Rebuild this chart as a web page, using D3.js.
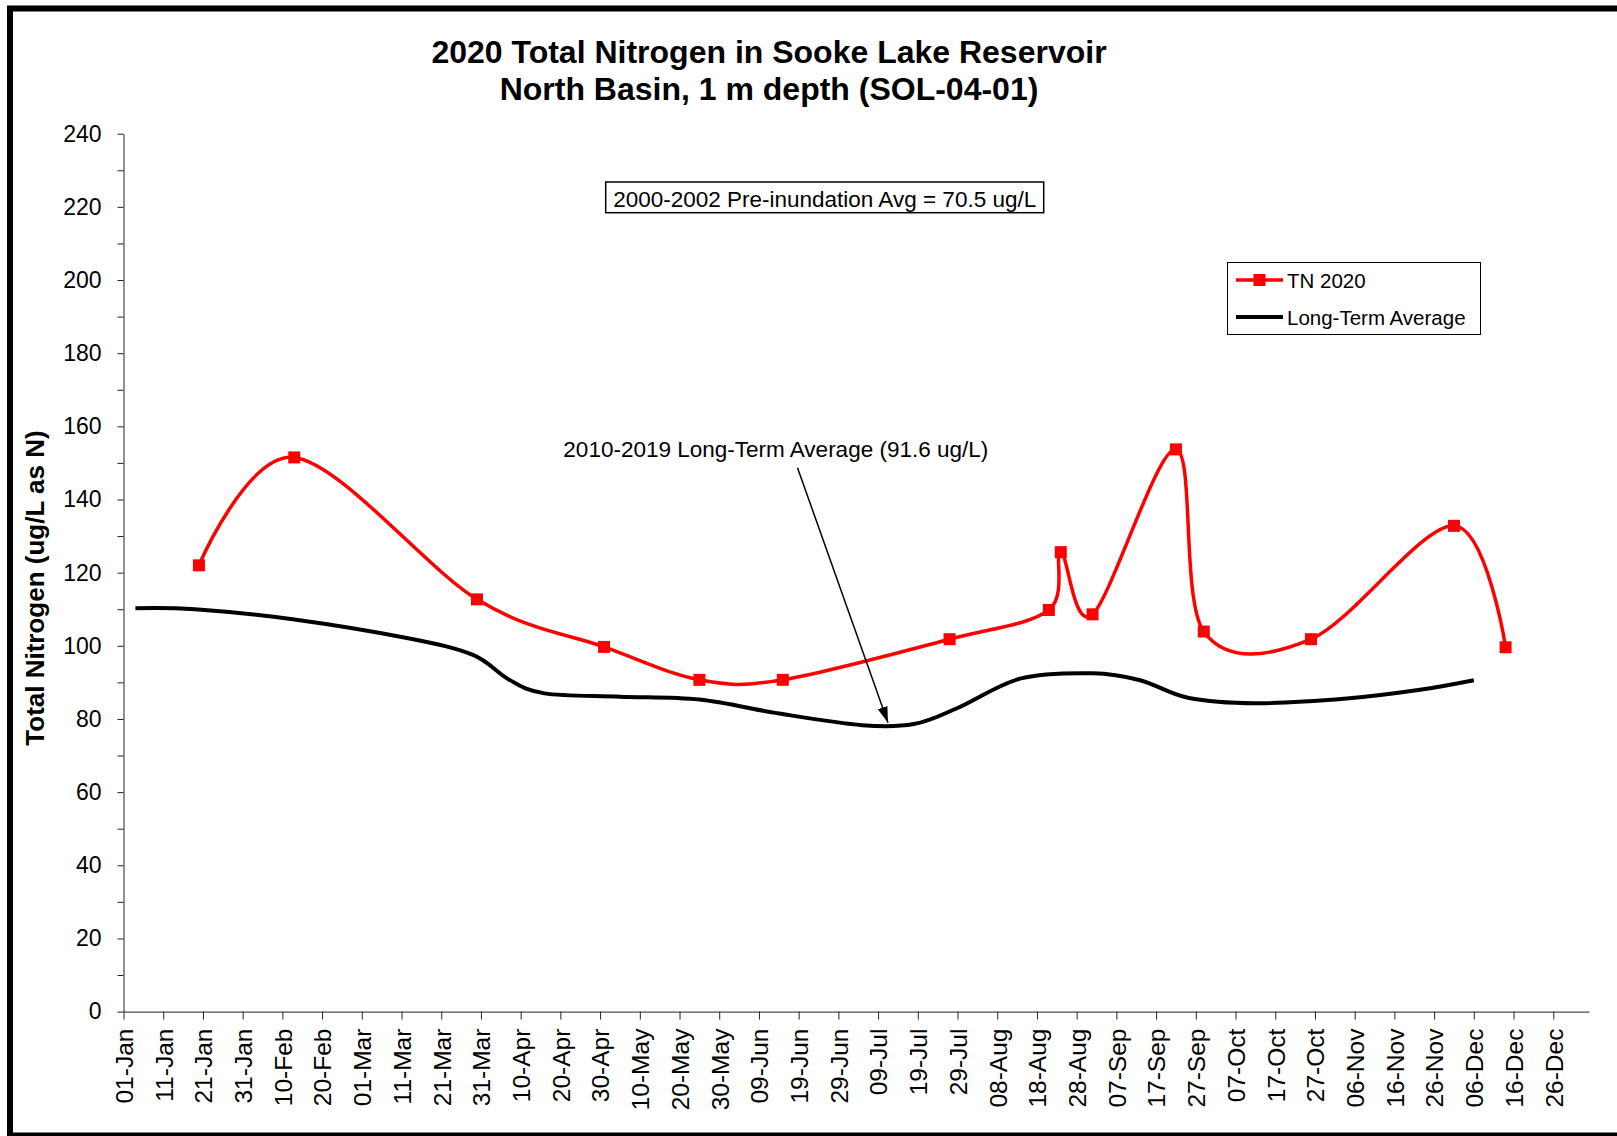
<!DOCTYPE html>
<html>
<head>
<meta charset="utf-8">
<script src="https://cdn.jsdelivr.net/npm/d3@7"></script>
<style>
  body { margin: 0; background: #fff; }
  svg text { font-family: "Liberation Sans", Arial, sans-serif; fill: #000; }
</style>
</head>
<body>
<div id="chart"></div>
<script>
// 2020 samples (TN, ug/L)
let tnDates = ["2020-01-20", "2020-02-13", "2020-03-30", "2020-05-01", "2020-05-25", "2020-06-15", "2020-07-27",
  "2020-08-21", "2020-08-24", "2020-09-01", "2020-09-22", "2020-09-29", "2020-10-26", "2020-12-01", "2020-12-14"];
let tnValues = [122, 151.5, 112.7, 99.7, 90.7, 90.7, 101.8, 109.8, 125.6, 108.6, 153.7, 103.9, 101.8, 132.8, 99.6];

// 2010-2019 long-term average curve
let ltaDates = ["2020-01-04", "2020-01-19", "2020-02-13", "2020-03-13", "2020-03-29", "2020-04-07", "2020-04-16",
  "2020-05-05", "2020-05-25", "2020-06-14", "2020-07-05", "2020-07-18", "2020-07-29", "2020-08-14", "2020-09-01",
  "2020-09-13", "2020-09-25", "2020-10-12", "2020-11-04", "2020-11-22", "2020-12-06"];
let ltaValues = [110.3, 110.0, 107.2, 102.0, 97.5, 90.8, 87.0, 86.1, 85.3, 81.5, 78.3, 78.6, 83.0, 91.1, 92.5,
  90.6, 85.8, 84.3, 85.6, 87.9, 90.6];

let yTicks = [0, 20, 40, 60, 80, 100, 120, 140, 160, 180, 200, 220, 240];
let yMinorTicks = [10, 30, 50, 70, 90, 110, 130, 150, 170, 190, 210, 230];
let xTickStart = "2020-01-01";
let xTickEvery = 10; // days
let xTickCount = 37;

let titleLines = ["2020 Total Nitrogen in Sooke Lake Reservoir", "North Basin, 1 m depth (SOL-04-01)"];
let yLabel = "Total Nitrogen (ug/L as N)";
let legendLabels = ["TN 2020", "Long-Term Average"];
let preNote = "2000-2002 Pre-inundation Avg = 70.5 ug/L";
let ltaNote = "2010-2019 Long-Term Average (91.6 ug/L)";

/** set up svg */
let width = 1617;
let height = 1136;
let parse = d3.utcParse("%Y-%m-%d");

let svg = d3.select('#chart')
  .append('svg')
  .attr('width', width)
  .attr('height', height)

svg.append('rect')
  .attr('width', width)
  .attr('height', height)
  .attr('fill', '#fff')

// thick frame (right side runs off the picture)
svg.append('rect')
  .attr('x', 10)
  .attr('y', 8.5)
  .attr('width', width + 20)
  .attr('height', 1127)
  .attr('fill', 'none')
  .attr('stroke', '#000')
  .attr('stroke-width', 6)

/** scales */
let x = d3.scaleUtc()
  .domain([parse("2020-01-01"), parse("2021-01-04")])
  .range([123.5, 1589]);
let y = d3.scaleLinear()
  .domain([0, 240])
  .range([1011.6, 133.7]);

let xTicks = d3.range(xTickCount).map(i => d3.utcDay.offset(parse(xTickStart), i * xTickEvery));

/** axes */
let yAxis = svg.append('g')
  .attr('transform', 'translate(123.5,0)')
  .call(d3.axisLeft(y).tickValues(yTicks).tickSize(6).tickSizeOuter(0).tickPadding(16))
yAxis.selectAll('text').style('font-size', '23px')

svg.append('g')
  .attr('transform', 'translate(123.5,0)')
  .call(d3.axisLeft(y).tickValues(yMinorTicks).tickSize(6).tickFormat(''))
  .call(g => g.select('.domain').remove())

let xAxis = svg.append('g')
  .attr('transform', `translate(0,${y(0)})`)
  .call(d3.axisBottom(x).tickValues(xTicks).tickSize(8).tickSizeOuter(0).tickFormat(d3.utcFormat('%d-%b')))
xAxis.selectAll('text')
  .style('font-size', '24.5px')
  .attr('transform', 'rotate(-90)')
  .attr('x', -17)
  .attr('y', 0)
  .attr('dy', '0.36em')
  .attr('text-anchor', 'end')

svg.selectAll('.domain, .tick line').attr('stroke', '#222')

/** titles */
svg.selectAll('.title')
  .data(titleLines)
  .enter()
  .append('text')
  .attr('class', 'title')
  .attr('x', 769)
  .attr('y', (d, i) => 63 + i * 37)
  .attr('text-anchor', 'middle')
  .style('font-size', '32px')
  .style('font-weight', 'bold')
  .text(d => d)

svg.append('text')
  .attr('transform', 'translate(43.5,588) rotate(-90)')
  .attr('text-anchor', 'middle')
  .style('font-size', '26px')
  .style('font-weight', 'bold')
  .text(yLabel)

/** lines */
let tnData = tnDates.map((d, i) => ({ date: parse(d), value: tnValues[i] }))
let ltaData = ltaDates.map((d, i) => ({ date: parse(d), value: ltaValues[i] }))

let line = d3.line()
  .x(d => x(d.date))
  .y(d => y(d.value))
  .curve(d3.curveCardinal.tension(0))

svg.append('path')
  .datum(ltaData)
  .attr('d', line)
  .attr('fill', 'none')
  .attr('stroke', '#000')
  .attr('stroke-width', 4)

svg.append('path')
  .datum(tnData)
  .attr('d', line)
  .attr('fill', 'none')
  .attr('stroke', '#ff0000')
  .attr('stroke-width', 3.5)

svg.selectAll('.marker')
  .data(tnData)
  .enter()
  .append('rect')
  .attr('class', 'marker')
  .attr('x', d => x(d.date) - 6)
  .attr('y', d => y(d.value) - 6)
  .attr('width', 12)
  .attr('height', 12)
  .attr('fill', '#ff0000')

/** pre-inundation box */
svg.append('rect')
  .attr('x', 605.7)
  .attr('y', 182)
  .attr('width', 438)
  .attr('height', 30.7)
  .attr('fill', 'none')
  .attr('stroke', '#000')
  .attr('stroke-width', 1.5)

svg.append('text')
  .attr('x', 824.7)
  .attr('y', 206.5)
  .attr('text-anchor', 'middle')
  .style('font-size', '22.5px')
  .text(preNote)

/** long-term average note + arrow */
svg.append('defs')
  .append('marker')
  .attr('id', 'head')
  .attr('viewBox', '0 0 16 10')
  .attr('refX', 16)
  .attr('refY', 5)
  .attr('markerUnits', 'userSpaceOnUse')
  .attr('markerWidth', 16)
  .attr('markerHeight', 10)
  .attr('orient', 'auto')
  .append('path')
  .attr('d', 'M0,0 L16,5 L0,10 z')
  .attr('fill', '#000')

svg.append('text')
  .attr('x', 775.8)
  .attr('y', 456.5)
  .attr('text-anchor', 'middle')
  .style('font-size', '22.5px')
  .text(ltaNote)

svg.append('line')
  .attr('x1', 797.5)
  .attr('y1', 467.7)
  .attr('x2', 888)
  .attr('y2', 722.7)
  .attr('stroke', '#000')
  .attr('stroke-width', 1.5)
  .attr('marker-end', 'url(#head)')

/** legend */
let legend = svg.append('g')

legend.append('rect')
  .attr('x', 1227.5)
  .attr('y', 262.5)
  .attr('width', 253)
  .attr('height', 72)
  .attr('fill', '#fff')
  .attr('stroke', '#000')
  .attr('stroke-width', 1)

let legendColors = ['#ff0000', '#000']
legendLabels.forEach((label, i) => {
  let ly = 280 + i * 37
  legend.append('line')
    .attr('x1', 1236)
    .attr('x2', 1283)
    .attr('y1', ly)
    .attr('y2', ly)
    .attr('stroke', legendColors[i])
    .attr('stroke-width', i == 0 ? 3.5 : 4)
  if (i == 0) {
    legend.append('rect')
      .attr('x', 1253.5)
      .attr('y', ly - 6)
      .attr('width', 12)
      .attr('height', 12)
      .attr('fill', '#ff0000')
  }
  legend.append('text')
    .attr('x', 1287)
    .attr('y', ly + 7.5)
    .style('font-size', '20.5px')
    .text(label)
})
</script>
</body>
</html>
